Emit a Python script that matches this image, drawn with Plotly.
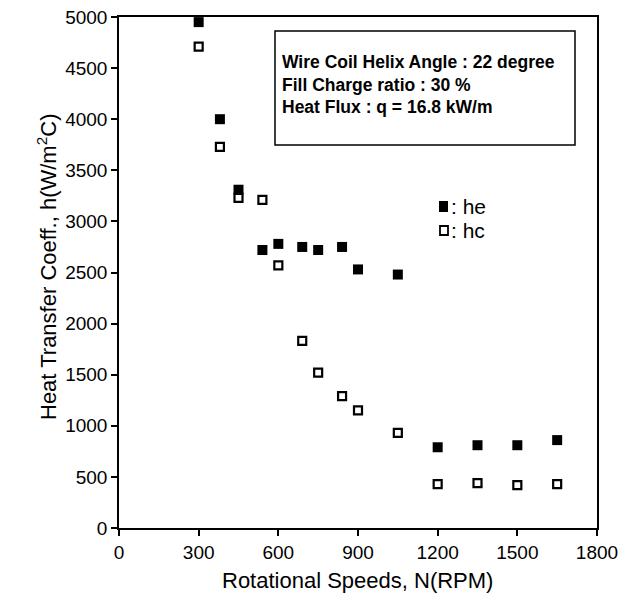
import plotly.graph_objects as go

speeds = [300, 380, 450, 540, 600, 690, 750, 840, 900, 1050, 1200, 1350, 1500, 1650]
he = [4950, 4000, 3310, 2720, 2780, 2750, 2720, 2750, 2530, 2480, 790, 810, 810, 860]
hc = [4710, 3730, 3230, 3210, 2570, 1830, 1520, 1290, 1150, 930, 430, 440, 420, 430]

x_ticks = [0, 300, 600, 900, 1200, 1500, 1800]
y_ticks = [0, 500, 1000, 1500, 2000, 2500, 3000, 3500, 4000, 4500, 5000]

box_lines = ["Wire Coil Helix Angle : 22 degree", "Fill Charge ratio : 30 %", "Heat Flux : q = 16.8 kW/m"]
x_title = "Rotational Speeds, N(RPM)"
y_title = "Heat Transfer Coeff., h(W/m<sup>2</sup>C)"

font_family = "Liberation Sans, Arial, sans-serif"

# The page body has an 8 px margin; compensate so that screen pixels match.
OFF = 8
L, R, T, B = 119 - OFF, 597 - OFF, 17 - OFF, 528 - OFF
W, H = 629 - OFF, 595 - OFF


def px(x):
    return (x - OFF - L) / (R - L)


def py(y):
    return (B - (y - OFF)) / (B - T)


fig = go.Figure()
fig.add_trace(go.Scatter(x=speeds, y=he, mode="markers", name="he",
                         marker=dict(symbol="square", size=10, color="black",
                                     line=dict(width=0))))
fig.add_trace(go.Scatter(x=speeds, y=hc, mode="markers", name="hc",
                         marker=dict(symbol="square-open", size=8, color="black",
                                     line=dict(width=2.2, color="black"))))

fig.update_layout(
    width=W, height=H,
    margin=dict(l=L, r=W - R, t=T, b=H - B),
    plot_bgcolor="white", paper_bgcolor="white",
    showlegend=False,
    font=dict(family=font_family, size=19, color="black"),
)
fig.update_xaxes(range=[0, 1800], tickvals=x_ticks, ticktext=[str(v) for v in x_ticks],
                 showgrid=False, zeroline=False, showline=True, linewidth=1.5, linecolor="black",
                 mirror=True, ticks="outside", ticklen=6, tickwidth=1.5, tickcolor="black",
                 tickfont=dict(size=19), automargin=False, ticklabeloverflow="allow")
fig.update_yaxes(range=[0, 5000], tickvals=y_ticks, ticktext=[str(v) for v in y_ticks],
                 showgrid=False, zeroline=False, showline=True, linewidth=1.5, linecolor="black",
                 mirror=True, ticks="outside", ticklen=6, tickwidth=1.5, tickcolor="black",
                 tickfont=dict(size=19), automargin=False, ticklabeloverflow="allow")

# Axis titles
fig.add_annotation(xref="paper", yref="paper", x=px(357), y=py(580), text=x_title,
                   showarrow=False, xanchor="center", yanchor="middle",
                   font=dict(size=22, family=font_family))
fig.add_annotation(xref="paper", yref="paper", x=px(47), y=py(267), text=y_title,
                   showarrow=False, xanchor="center", yanchor="middle", textangle=-90,
                   font=dict(size=22, family=font_family))

# Info box
fig.add_shape(type="rect", xref="paper", yref="paper",
              x0=px(275), x1=px(575), y0=py(145), y1=py(31),
              line=dict(color="black", width=1.5), fillcolor="white", layer="below")
for i, t in enumerate(box_lines):
    fig.add_annotation(xref="paper", yref="paper", x=px(280), y=py(62 + i * 22.5),
                       text="<b>" + t + "</b>", showarrow=False, xanchor="left", yanchor="middle",
                       font=dict(size=17.5, family=font_family))

# Legend-like labels
fig.add_shape(type="rect", xref="paper", yref="paper",
              x0=px(439), x1=px(448), y0=py(212), y1=py(201),
              line=dict(color="black", width=0), fillcolor="black")
fig.add_shape(type="rect", xref="paper", yref="paper",
              x0=px(440), x1=px(448), y0=py(235), y1=py(226),
              line=dict(color="black", width=1.8), fillcolor="white")
fig.add_annotation(xref="paper", yref="paper", x=px(449), y=py(206),
                   text=": he", showarrow=False, xanchor="left", yanchor="middle",
                   font=dict(size=21, family=font_family))
fig.add_annotation(xref="paper", yref="paper", x=px(449), y=py(230),
                   text=": hc", showarrow=False, xanchor="left", yanchor="middle",
                   font=dict(size=21, family=font_family))

fig.write_html("out.html")
